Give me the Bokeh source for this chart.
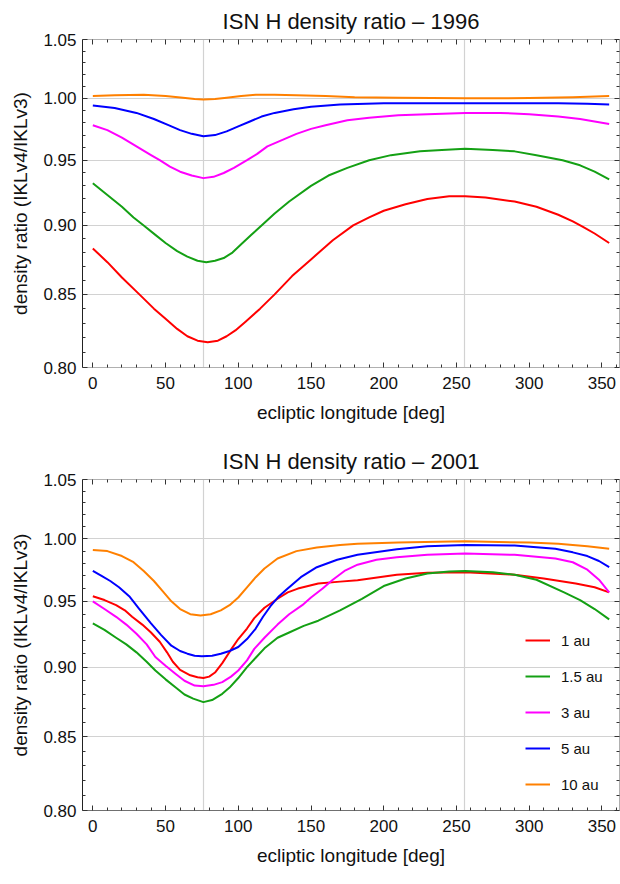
from bokeh.plotting import figure
from bokeh.models import (Range1d, FixedTicker, LinearAxis, LogAxis, Legend,
                          LegendItem, PrintfTickFormatter, CustomLabelingPolicy)
from bokeh.layouts import column
from bokeh.embed import file_html
from bokeh.resources import INLINE

# ---------------- data ----------------
titles = ["ISN H density ratio \u2013 1996", "ISN H density ratio \u2013 2001"]
series_labels = ["1 au", "1.5 au", "3 au", "5 au", "10 au"]
series_colors = ["#ff0000", "#14a014", "#ff00ff", "#0000ff", "#ff8000"]

x_major = [0, 50, 100, 150, 200, 250, 300, 350]
x_minor = [10, 20, 30, 40, 60, 70, 80, 90, 110, 120, 130, 140, 160, 170, 180, 190,
           210, 220, 230, 240, 260, 270, 280, 290, 310, 320, 330, 340, 360]
y_major = [0.80, 0.85, 0.90, 0.95, 1.00, 1.05]
y_minor = [0.81, 0.82, 0.83, 0.84, 0.86, 0.87, 0.88, 0.89, 0.91, 0.92, 0.93, 0.94,
           0.96, 0.97, 0.98, 0.99, 1.01, 1.02, 1.03, 1.04]
grid_lon = [75.8, 255.8]
grid_ratio = [0.85, 0.90, 0.95, 1.00]

# ---- 1996 ----
lon96_1 = [0, 10, 20, 32, 42, 50, 58, 65, 72, 79, 86, 92, 98, 105, 115, 125, 137, 150, 165,
           179, 190, 200, 215, 230, 245, 256, 270, 290, 305, 320, 330, 337, 345, 355]
rat96_1 = [0.883, 0.873, 0.862, 0.850, 0.840, 0.833, 0.826, 0.821, 0.818, 0.817, 0.818, 0.821,
           0.825, 0.831, 0.840, 0.850, 0.863, 0.875, 0.889, 0.900, 0.906, 0.911, 0.916, 0.920,
           0.922, 0.922, 0.921, 0.918, 0.914, 0.908, 0.903, 0.899, 0.894, 0.887]
lon96_15 = [0, 10, 20, 28, 35, 43, 50, 58, 65, 72, 78, 84, 90, 96, 102, 109, 116, 125, 135,
            150, 162, 175, 190, 205, 225, 240, 256, 275, 290, 305, 323, 335, 345, 355]
rat96_15 = [0.932, 0.923, 0.914, 0.906, 0.900, 0.893, 0.887, 0.881, 0.877, 0.874, 0.873, 0.874,
            0.876, 0.880, 0.886, 0.893, 0.900, 0.909, 0.918, 0.930, 0.938, 0.944, 0.950, 0.954,
            0.957, 0.958, 0.959, 0.958, 0.957, 0.954, 0.950, 0.946, 0.941, 0.935]
lon96_3 = [0, 10, 20, 30, 40, 46, 53, 60, 68, 76, 83, 90, 97, 106, 113, 120, 130, 140, 150,
           160, 175, 190, 210, 230, 256, 280, 300, 320, 335, 345, 355]
rat96_3 = [0.978, 0.974, 0.968, 0.961, 0.954, 0.950, 0.945, 0.941, 0.938, 0.936, 0.937, 0.940,
           0.944, 0.950, 0.955, 0.961, 0.966, 0.971, 0.975, 0.978, 0.982, 0.984, 0.986, 0.987,
           0.988, 0.988, 0.987, 0.985, 0.983, 0.981, 0.979]
lon96_5 = [0, 15, 30, 42, 52, 60, 68, 76, 84, 92, 100, 108, 116, 125, 138, 150, 170, 200,
           256, 320, 340, 355]
rat96_5 = [0.994, 0.992, 0.988, 0.983, 0.978, 0.974, 0.971, 0.969, 0.970, 0.973, 0.977, 0.981,
           0.985, 0.988, 0.991, 0.993, 0.995, 0.996, 0.996, 0.996, 0.9955, 0.995]
lon96_10 = [0, 15, 35, 50, 62, 70, 76, 84, 92, 102, 112, 125, 140, 160, 180, 210, 256, 300,
            330, 355]
rat96_10 = [1.002, 1.0025, 1.003, 1.002, 1.0005, 0.9995, 0.999, 0.9995, 1.0005, 1.002, 1.003,
            1.003, 1.0025, 1.002, 1.001, 1.0005, 1.000, 1.0002, 1.001, 1.002]

# ---- 2001 ----
lon01_1 = [0, 8, 16, 22, 27, 34, 40, 46, 51, 55, 60, 67, 72, 76, 80, 84, 89, 95, 100, 106,
           111, 118, 127, 134, 141, 155, 170, 182, 209, 230, 256, 290, 310, 332, 345, 355]
rat01_1 = [0.954, 0.951, 0.947, 0.943, 0.938, 0.932, 0.926, 0.919, 0.911, 0.904, 0.898, 0.894,
           0.8925, 0.892, 0.893, 0.896, 0.903, 0.913, 0.921, 0.929, 0.937, 0.945, 0.952, 0.957,
           0.960, 0.964, 0.9655, 0.9665, 0.971, 0.9725, 0.973, 0.971, 0.968, 0.964, 0.961, 0.957]
lon01_15 = [0, 8, 16, 23, 30, 37, 43, 50, 57, 63, 69, 76, 82, 89, 94, 100, 106, 112, 118, 127,
            135, 145, 155, 170, 185, 200, 215, 230, 245, 256, 275, 290, 305, 324, 335, 345, 355]
rat01_15 = [0.933, 0.928, 0.922, 0.917, 0.911, 0.904, 0.8975, 0.891, 0.885, 0.880, 0.877,
            0.8745, 0.876, 0.8805, 0.885, 0.892, 0.900, 0.907, 0.914, 0.922, 0.926, 0.931, 0.935,
            0.943, 0.952, 0.962, 0.968, 0.972, 0.9735, 0.974, 0.973, 0.971, 0.967, 0.957, 0.951,
            0.944, 0.936]
lon01_3 = [0, 8, 16, 23, 30, 37, 43, 50, 57, 63, 70, 76, 83, 89, 95, 100, 106, 111, 118, 127,
           135, 144, 150, 158, 165, 173, 182, 195, 209, 230, 256, 290, 318, 330, 340, 348, 355]
rat01_3 = [0.950, 0.944, 0.938, 0.932, 0.925, 0.917, 0.9075, 0.901, 0.895, 0.890, 0.8865, 0.886,
           0.887, 0.889, 0.893, 0.8975, 0.905, 0.9136, 0.922, 0.932, 0.940, 0.947, 0.953, 0.960,
           0.967, 0.974, 0.979, 0.983, 0.985, 0.987, 0.988, 0.987, 0.984, 0.981, 0.975, 0.967,
           0.957]
lon01_5 = [0, 6, 12, 18, 25, 32, 40, 47, 54, 60, 65, 70, 75, 82, 88, 94, 100, 106, 112, 117,
           122, 128, 133, 143, 154, 168, 182, 209, 230, 256, 290, 318, 330, 340, 348, 355]
rat01_5 = [0.974, 0.970, 0.966, 0.961, 0.954, 0.944, 0.933, 0.924, 0.916, 0.912, 0.910, 0.9085,
           0.908, 0.9085, 0.910, 0.912, 0.915, 0.921, 0.929, 0.938, 0.946, 0.954, 0.959, 0.969,
           0.977, 0.983, 0.987, 0.9915, 0.994, 0.995, 0.9945, 0.992, 0.989, 0.986, 0.982, 0.977]
lon01_10 = [0, 10, 20, 28, 35, 42, 48, 54, 60, 67, 74, 81, 88, 94, 100, 106, 112, 118, 127,
            140, 154, 170, 182, 210, 256, 300, 320, 340, 355]
rat01_10 = [0.991, 0.990, 0.986, 0.981, 0.974, 0.966, 0.958, 0.950, 0.944, 0.940, 0.939, 0.940,
            0.943, 0.947, 0.953, 0.961, 0.969, 0.976, 0.984, 0.990, 0.993, 0.995, 0.996, 0.997,
            0.998, 0.997, 0.996, 0.994, 0.992]

data96 = [(lon96_1, rat96_1), (lon96_15, rat96_15), (lon96_3, rat96_3),
          (lon96_5, rat96_5), (lon96_10, rat96_10)]
data01 = [(lon01_1, rat01_1), (lon01_15, rat01_15), (lon01_3, rat01_3),
          (lon01_5, rat01_5), (lon01_10, rat01_10)]

FONT = "Liberation Sans"
HIDE = "for (const i of indices) { indices.unset(i) }\nreturn indices"
W = 620


def style_axis(ax, line_color, labels=True):
    ax.major_tick_in = 5
    ax.major_tick_out = 0
    ax.minor_tick_in = 3
    ax.minor_tick_out = 0
    ax.major_tick_line_color = "#333333"
    ax.minor_tick_line_color = "#333333"
    ax.axis_line_color = line_color
    ax.axis_line_width = 1
    if labels:
        ax.major_label_text_font = FONT
        ax.major_label_text_font_size = "17px"
        ax.major_label_text_color = "#111111"
        ax.axis_label_text_font = FONT
        ax.axis_label_text_font_size = "19px"
        ax.axis_label_text_font_style = "normal"
        ax.axis_label_text_color = "#111111"
    else:
        ax.major_label_policy = CustomLabelingPolicy(code=HIDE)
        ax.major_label_text_font_size = "0px"
        ax.major_label_standoff = 0


def make_fig(title, data, height, b_top, b_bottom, legend, bottom_color):
    p = figure(width=W, height=height, output_backend="svg", toolbar_location=None,
               x_range=Range1d(-7.1, 362.1), y_range=Range1d(0.80, 1.05),
               y_axis_type="log",
               min_border_left=82, min_border_right=1,
               min_border_top=b_top, min_border_bottom=b_bottom)
    p.outline_line_color = None
    p.background_fill_color = "white"
    p.border_fill_color = "white"
    p.title.text = title
    p.title.text_font = FONT
    p.title.text_font_size = "22px"
    p.title.text_font_style = "normal"
    p.title.text_color = "#111111"
    p.title.align = "center"
    p.title.standoff = 12

    xa = p.xaxis[0]
    xa.ticker = FixedTicker(ticks=x_major, minor_ticks=x_minor)
    xa.axis_label = "ecliptic longitude [deg]"
    style_axis(xa, bottom_color)
    xa.major_label_standoff = 9
    xa.axis_label_standoff = 10
    ya = p.yaxis[0]
    ya.ticker = FixedTicker(ticks=y_major, minor_ticks=y_minor)
    ya.formatter = PrintfTickFormatter(format="%.2f")
    ya.axis_label = "density ratio (IKLv4/IKLv3)"
    style_axis(ya, "#222222")
    ya.major_label_standoff = 6
    ya.axis_label_standoff = 9

    top = LinearAxis(ticker=FixedTicker(ticks=x_major, minor_ticks=x_minor))
    style_axis(top, "#b0b0b0", labels=False)
    p.add_layout(top, "above")
    right = LogAxis(ticker=FixedTicker(ticks=y_major, minor_ticks=y_minor))
    style_axis(right, "#b0b0b0", labels=False)
    p.add_layout(right, "right")

    p.xgrid.ticker = FixedTicker(ticks=grid_lon)
    p.ygrid.ticker = FixedTicker(ticks=grid_ratio)
    p.xgrid.grid_line_color = "#d2d2d2"
    p.ygrid.grid_line_color = "#d2d2d2"
    p.xgrid.grid_line_width = 1.2
    p.ygrid.grid_line_width = 1.2
    p.ygrid.minor_grid_line_color = None

    items = []
    for (lon, rat), lab, col in zip(data, series_labels, series_colors):
        r = p.line(lon, rat, line_color=col, line_width=2, line_join="round")
        items.append(LegendItem(label=lab, renderers=[r]))
    if legend:
        lg = Legend(items=items, location=(443, 16), orientation="vertical")
        lg.border_line_color = None
        lg.background_fill_alpha = 0
        lg.padding = 0
        lg.margin = 0
        lg.spacing = 16
        lg.glyph_width = 25
        lg.glyph_height = 20
        lg.label_height = 20
        lg.label_standoff = 11
        lg.label_text_font = FONT
        lg.label_text_font_size = "15px"
        lg.label_text_color = "#111111"
        p.add_layout(lg)
    return p


p1 = make_fig(titles[0], data96, 436, 36, 69, False, "#b0b0b0")
p2 = make_fig(titles[1], data01, 432, 43, 56, True, "#707070")

layout = column(p1, p2, spacing=0)
open("out.html", "w").write(file_html(layout, INLINE))
